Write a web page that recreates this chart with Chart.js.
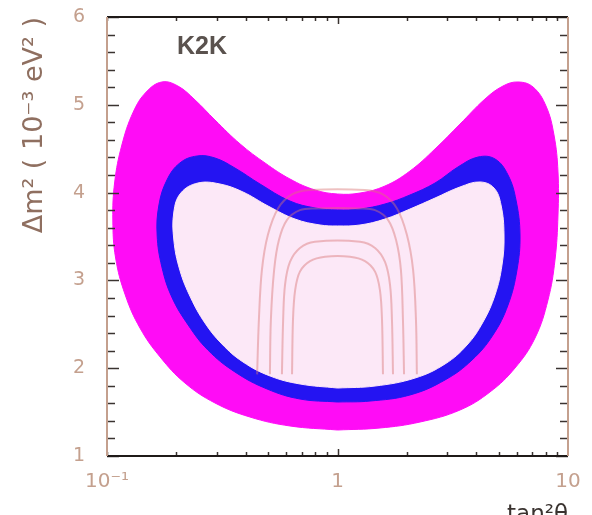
<!DOCTYPE html>
<html>
<head>
<meta charset="utf-8">
<script src="https://cdn.jsdelivr.net/npm/chart.js@4.4.0/dist/chart.umd.min.js"></script>
<style>
  html, body { margin: 0; padding: 0; background: #fff; }
  #wrap { width: 592px; height: 515px; }
</style>
</head>
<body>
<div id="wrap"><canvas id="k2k"></canvas></div>
<script>
// allowed region, outer band (tan^2 theta, dm^2 in 1e-3 eV^2)
const outerX = [1.0, 0.622, 0.417, 0.294, 0.218, 0.170, 0.139, 0.120, 0.109, 0.106, 0.108, 0.116,
  0.130, 0.148, 0.173, 0.203, 0.241, 0.294, 0.378, 0.485, 0.622, 0.799, 1.0, 1.252, 1.607,
  2.063, 2.649, 3.401, 4.364, 5.224, 6.068, 7.050, 8.027, 8.694, 9.049, 9.049, 8.781, 8.189,
  7.193, 5.889, 4.587, 3.401, 2.280, 1.529, 1.0];
const outerY = [1.296, 1.342, 1.444, 1.604, 1.831, 2.128, 2.458, 2.834, 3.255, 3.688, 4.121, 4.542,
  4.918, 5.146, 5.260, 5.214, 5.055, 4.827, 4.554, 4.337, 4.155, 4.030, 3.984, 3.995, 4.075,
  4.246, 4.497, 4.781, 5.066, 5.214, 5.260, 5.203, 4.986, 4.656, 4.235, 3.745, 3.232, 2.777,
  2.344, 2.002, 1.729, 1.524, 1.387, 1.319, 1.296];

// middle band
const bandX = [1.0, 0.688, 0.495, 0.359, 0.274, 0.225, 0.191, 0.173, 0.165, 0.168, 0.182, 0.207,
  0.246, 0.294, 0.359, 0.461, 0.622, 0.799, 1.0, 1.252, 1.607, 2.063, 2.649, 3.333, 4.070,
  4.823, 5.493, 5.948, 6.191, 6.007, 5.493, 4.727, 3.833, 2.927, 2.063, 1.384, 1.0];
const bandY = [1.615, 1.649, 1.763, 1.957, 2.207, 2.492, 2.811, 3.153, 3.517, 3.859, 4.144, 4.337,
  4.417, 4.394, 4.280, 4.098, 3.904, 3.825, 3.802, 3.813, 3.870, 3.973, 4.109, 4.292, 4.405,
  4.383, 4.200, 3.916, 3.517, 3.118, 2.720, 2.378, 2.093, 1.866, 1.695, 1.626, 1.615];

// inner region
const innerX = [1.0, 0.688, 0.510, 0.389, 0.315, 0.266, 0.231, 0.207, 0.195, 0.195, 0.209, 0.248,
  0.309, 0.389, 0.500, 0.654, 0.840, 1.0, 1.252, 1.607, 2.063, 2.649, 3.401, 4.152, 4.775,
  5.121, 5.277, 5.172, 4.823, 4.278, 3.646, 2.927, 2.169, 1.455, 1.0];
const innerY = [1.774, 1.820, 1.911, 2.071, 2.276, 2.515, 2.800, 3.118, 3.460, 3.779, 3.995, 4.109,
  4.098, 4.007, 3.847, 3.699, 3.631, 3.620, 3.631, 3.699, 3.813, 3.938, 4.064, 4.121, 4.052,
  3.859, 3.517, 3.175, 2.834, 2.526, 2.264, 2.048, 1.888, 1.797, 1.774];

// thin contour lines in the middle
const c1X = [0.448, 0.456, 0.470, 0.499, 0.552, 0.635, 0.760, 1.316, 1.575, 1.811, 2.00, 2.128, 2.19, 2.21];
const c1Y = [1.93, 2.55, 3.12, 3.52, 3.82, 3.98, 4.03, 4.03, 3.98, 3.82, 3.52, 3.12, 2.55, 1.93];
const c2X = [0.509, 0.514, 0.531, 0.557, 0.604, 0.687, 0.798, 1.253, 1.455, 1.656, 1.795, 1.884, 1.923, 1.944];
const c2Y = [1.93, 2.55, 3.12, 3.46, 3.69, 3.80, 3.82, 3.82, 3.80, 3.69, 3.46, 3.12, 2.55, 1.93];
const c3X = [0.574, 0.581, 0.592, 0.622, 0.687, 0.798, 1.253, 1.455, 1.607, 1.690, 1.723, 1.741];
const c3Y = [1.93, 2.55, 2.95, 3.21, 3.37, 3.44, 3.44, 3.37, 3.21, 2.95, 2.55, 1.93];
const c4X = [0.635, 0.641, 0.655, 0.687, 0.760, 0.883, 1.133, 1.316, 1.455, 1.528, 1.560, 1.575];
const c4Y = [1.93, 2.55, 2.89, 3.10, 3.22, 3.27, 3.27, 3.22, 3.10, 2.89, 2.55, 1.93];

const xTicks = [0.1, 1, 10];
const xTickText = ['10\u207B\u00B9', '1', '10'];
const yMin = 1, yMax = 6;

function pts(xs, ys) {
  return xs.map((x, i) => ({ x: x, y: ys[i] }));
}

function region(xs, ys, color, order) {
  return {
    data: pts(xs, ys),
    showLine: true,
    fill: 'shape',
    backgroundColor: color,
    borderColor: color,
    borderWidth: 1,
    pointRadius: 0,
    tension: 0.4,
    order: order
  };
}

function contour(xs, ys) {
  return {
    data: pts(xs, ys),
    showLine: true,
    fill: false,
    borderColor: 'rgba(218,118,118,0.45)',
    borderWidth: 2,
    pointRadius: 0,
    tension: 0.35,
    order: 0
  };
}

// frame, inward tick marks and the experiment tag
const frameTicks = {
  id: 'frameTicks',
  afterDraw(chart) {
    const { ctx, chartArea: a, scales: { x, y } } = chart;
    const seg = (x1, y1, x2, y2) => { ctx.beginPath(); ctx.moveTo(x1, y1); ctx.lineTo(x2, y2); ctx.stroke(); };
    ctx.save();
    ctx.lineWidth = 1.5;
    ctx.strokeStyle = '#3a3330';
    for (let i = 0; i <= 25; i++) {
      const v = yMin + i * 0.2;
      const py = Math.round(y.getPixelForValue(v)) + 0.5;
      const len = (i % 5 === 0) ? 12 : 8;
      seg(a.left, py, a.left + len, py);
      seg(a.right, py, a.right - len, py);
    }
    [0.1, 1].forEach(dec => {
      for (let m = 1; m <= 9; m++) {
        const px = Math.round(x.getPixelForValue(dec * m)) + 0.5;
        const len = (dec === 1 && m === 1) ? 7 : 4;
        seg(px, a.bottom, px, a.bottom - len);
        seg(px, a.top, px, a.top + len);
      }
    });
    ctx.lineWidth = 2;
    ctx.strokeStyle = '#1f1a18';
    seg(a.left, a.top, a.right, a.top);
    seg(a.left, a.bottom, a.right, a.bottom);
    ctx.strokeStyle = '#c4a08e';
    seg(a.left, a.top, a.left, a.bottom);
    seg(a.right, a.top, a.right, a.bottom);

    ctx.fillStyle = '#5a524e';
    ctx.font = 'bold 25px "Liberation Sans", Arial, sans-serif';
    ctx.textBaseline = 'middle';
    ctx.fillText('K2K', a.left + 70, a.top + 30);
    ctx.restore();
  }
};

new Chart(document.getElementById('k2k'), {
  type: 'scatter',
  data: {
    datasets: [
      contour(c1X, c1Y),
      contour(c2X, c2Y),
      contour(c3X, c3Y),
      contour(c4X, c4Y),
      region(innerX, innerY, '#fce8f7', 1),
      region(bandX, bandY, '#2414f2', 2),
      region(outerX, outerY, '#ff0cf6', 3)
    ]
  },
  options: {
    responsive: true,
    maintainAspectRatio: false,
    animation: false,
    layout: { padding: { left: 0, top: 17, right: 24, bottom: 0 } },
    plugins: {
      legend: { display: false },
      tooltip: { enabled: false }
    },
    scales: {
      x: {
        type: 'logarithmic',
        min: 0.1,
        max: 10,
        grid: { display: false, drawTicks: false },
        border: { display: false },
        afterBuildTicks: s => { s.ticks = xTicks.map(v => ({ value: v })); },
        afterFit: s => { s.height = 59; s.paddingLeft = 0; s.paddingRight = 0; },
        ticks: {
          autoSkip: false,
          maxRotation: 0,
          padding: 14,
          color: '#c4a08e',
          font: { family: 'DejaVu Sans', size: 20 },
          callback: (v) => xTickText[xTicks.indexOf(v)] ?? ''
        },
        title: {
          display: true,
          text: 'tan\u00B2\u03B8',
          align: 'end',
          color: '#3a3330',
          font: { family: 'DejaVu Sans', size: 23 },
          padding: { top: 0, bottom: -14 }
        }
      },
      y: {
        type: 'linear',
        min: yMin,
        max: yMax,
        grid: { display: false, drawTicks: false },
        border: { display: false },
        afterFit: s => { s.width = 107; s.paddingTop = 0; s.paddingBottom = 0; },
        ticks: {
          stepSize: 1,
          padding: 22,
          color: '#c4a08e',
          font: { family: 'DejaVu Sans', size: 19 }
        },
        title: {
          display: true,
          text: '\u0394m\u00B2 ( 10\u207B\u00B3 eV\u00B2 )',
          align: 'end',
          color: '#8f6f60',
          font: { family: 'DejaVu Sans', size: 27 },
          padding: { top: 19, bottom: 0 }
        }
      }
    }
  },
  plugins: [frameTicks]
});
</script>
</body>
</html>
